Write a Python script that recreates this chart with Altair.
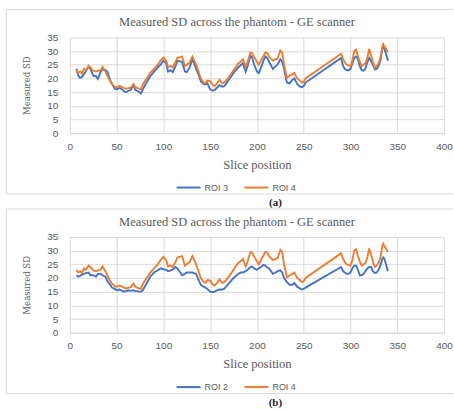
import altair as alt
import pandas as pd

# Slice positions shared by every series (no slices between 252 and 290)
slices = [
    7, 9, 11, 13, 15, 17, 20, 22, 25, 28, 30, 33, 35, 38, 40, 43, 45, 48, 50, 53,
    55, 58, 60, 63, 65, 68, 70, 72, 74, 76, 78, 82, 86, 90, 94, 97, 100, 103, 105, 108,
    110, 113, 115, 118, 120, 123, 125, 128, 131, 133, 135, 138, 140, 143, 145, 147, 150, 153, 155, 157,
    160, 163, 165, 167, 170, 175, 180, 183, 185, 188, 190, 193, 195, 197, 200, 202, 205, 207, 209, 211,
    213, 215, 217, 220, 222, 225, 227, 229, 232, 235, 238, 240, 243, 246, 248, 250, 252, 290, 292, 294,
    296, 298, 300, 302, 304, 306, 308, 310, 312, 314, 316, 318, 320, 322, 324, 326, 328, 330, 332, 334,
    335, 336, 338, 340,
]

roi4 = [
    23.0, 22.0, 22.5, 21.8, 23.5, 23.0, 24.5, 24.0, 22.8, 22.5, 22.8, 23.0, 24.2, 22.5, 21.0, 19.0, 18.0, 17.0, 16.8, 17.2,
    17.0, 16.5, 16.2, 16.5, 16.6, 18.0, 16.8, 16.5, 16.2, 16.0, 17.8, 20.0, 22.0, 23.5, 25.0, 26.5, 27.7, 26.5, 24.2, 24.5,
    24.0, 26.0, 27.5, 27.8, 28.0, 24.5, 25.0, 25.8, 28.0, 26.5, 25.0, 22.0, 20.0, 18.5, 18.2, 19.2, 19.0, 17.5, 17.3, 18.0,
    19.5, 18.2, 18.5, 19.2, 20.5, 23.0, 25.5, 26.2, 27.0, 24.2, 26.0, 29.5, 29.2, 27.8, 26.0, 25.0, 27.0, 28.2, 29.5, 29.3,
    28.0, 27.2, 26.5, 27.0, 27.2, 30.2, 29.5, 25.0, 20.2, 21.0, 21.5, 22.0, 20.0, 19.2, 18.5, 18.8, 20.0, 29.0, 27.0, 25.8,
    25.0, 24.8, 24.5, 26.5, 30.0, 30.5, 28.0, 26.0, 24.5, 25.0, 25.5, 27.5, 30.8, 28.5, 26.0, 24.0, 24.5, 25.5, 27.5, 31.5,
    32.5, 31.8, 30.8, 29.5,
]

roi3 = [
    23.5, 21.0, 20.2, 20.5, 21.5, 22.5, 24.5, 23.5, 21.0, 20.8, 19.8, 22.5, 23.3, 23.0, 22.5, 19.5, 18.0, 16.2, 16.0, 16.5,
    16.2, 15.3, 15.0, 15.5, 15.8, 17.5, 15.8, 15.5, 15.0, 14.5, 16.0, 18.5, 20.8, 22.5, 24.0, 25.0, 26.5, 25.5, 22.5, 23.0,
    22.3, 24.5, 26.5, 26.2, 26.0, 22.5, 22.3, 24.0, 27.0, 25.5, 23.5, 21.0, 19.0, 18.0, 17.8, 18.2, 16.0, 15.5, 15.8, 16.5,
    17.5, 17.0, 17.2, 18.0, 19.5, 22.0, 24.0, 25.0, 25.5, 22.5, 24.5, 28.5, 27.5, 25.0, 22.5, 22.0, 24.5, 26.5, 28.0, 27.5,
    26.0, 24.8, 23.5, 24.5, 25.0, 27.0, 26.0, 23.5, 18.5, 18.2, 19.5, 20.0, 18.0, 17.0, 16.8, 17.2, 18.5, 27.5, 24.5, 23.5,
    23.0, 23.0, 23.5, 25.5, 27.5, 28.0, 27.0, 24.5, 23.0, 22.8, 23.5, 26.0, 27.5, 26.5, 25.0, 23.3, 23.5, 24.5, 26.5, 31.0,
    32.0, 31.0, 29.0, 26.5,
]

roi2 = [
    21.0, 20.5, 20.8, 21.2, 21.5, 21.8, 22.0, 21.0, 21.0, 20.5, 21.5, 21.5, 21.0, 20.5, 19.0, 17.5, 16.5, 16.0, 15.5, 15.8,
    15.5, 15.0, 15.2, 15.5, 15.3, 15.5, 15.2, 15.2, 15.0, 15.0, 15.5, 18.0, 20.5, 22.0, 22.8, 23.5, 23.2, 23.0, 22.5, 22.8,
    23.0, 24.0, 23.5, 22.0, 21.0, 21.5, 22.0, 22.0, 22.0, 21.8, 21.5, 19.0, 17.5, 16.8, 16.5, 16.0, 15.0, 14.8, 15.0, 15.5,
    15.8, 15.8, 16.0, 16.8, 18.0, 20.0, 21.5, 22.0, 22.0, 22.5, 23.0, 24.0, 24.2, 23.5, 23.0, 23.5, 24.2, 24.8, 24.5, 23.8,
    23.5, 22.5, 21.5, 22.0, 22.5, 22.8, 22.0, 20.0, 18.5, 17.5, 17.5, 18.2, 16.8, 16.2, 15.8, 16.0, 16.5, 24.0, 22.5, 22.0,
    21.5, 21.5, 22.0, 23.5, 24.5, 24.5, 23.0, 21.0, 21.0, 21.5, 22.5, 23.5, 24.0, 24.0, 22.5, 21.8, 22.0, 23.0, 24.5, 27.0,
    27.5, 27.2, 25.0, 22.5,
]

chart_title = "Measured SD across the phantom - GE scanner"
x_ticks = [0, 50, 100, 150, 200, 250, 300, 350, 400]
y_ticks = [0, 5, 10, 15, 20, 25, 30, 35]

BLUE = "#4472C4"
ORANGE = "#ED7D31"
GRID = "#D9D9D9"
TEXT = "#595959"
SERIF = "Liberation Serif"
SANS = "Liberation Sans"

W, H = 375, 96


def long_frame(pairs):
    rows = []
    for name, vals in pairs:
        for s, v in zip(slices, vals):
            rows.append({"slice": s, "sd": v, "series": name})
    return pd.DataFrame(rows)


def one_row():
    return pd.DataFrame({"k": [0]})


def panel(pairs, caption):
    df = long_frame(pairs)
    names = [p[0] for p in pairs]

    lines = alt.Chart(df).mark_line(strokeWidth=1.9, interpolate="linear").encode(
        x=alt.X(
            "slice:Q",
            scale=alt.Scale(domain=[0, 400], nice=False),
            axis=alt.Axis(
                values=x_ticks, title="Slice position", grid=True, gridColor=GRID,
                domain=True, domainColor=GRID, ticks=False, labelPadding=8,
                labelFlush=False, titlePadding=7, titleFont=SERIF, titleFontSize=12.5,
                titleFontWeight="normal", titleColor=TEXT,
            ),
        ),
        y=alt.Y(
            "sd:Q",
            scale=alt.Scale(domain=[0, 35], nice=False),
            axis=alt.Axis(
                values=y_ticks, title="Measured SD", grid=True, gridColor=GRID,
                domain=False, ticks=False, labelPadding=12, labelFlush=False,
                titlePadding=15,
                titleFont="DejaVu Serif Condensed, Liberation Serif", titleFontSize=9.5,
                titleFontWeight="normal", titleColor=TEXT,
            ),
        ),
        color=alt.Color(
            "series:N",
            scale=alt.Scale(domain=names, range=[BLUE, ORANGE]),
            legend=alt.Legend(
                title=None, orient="none", direction="horizontal",
                legendX=106, legendY=137.5, symbolType="stroke", symbolSize=576,
                symbolStrokeWidth=2, labelOffset=3, columnPadding=12,
                labelFont=SANS, labelFontSize=9, labelColor=TEXT,
            ),
        ),
        order="slice:Q",
    )

    base = alt.Chart(one_row())
    # chart-area border: left, top and bottom edges
    border = base.mark_rule(color=GRID, strokeWidth=1).encode(
        x=alt.value(-63.7), x2=alt.value(-63.7), y=alt.value(-28), y2=alt.value(157)
    )
    border_top = base.mark_rule(color=GRID, strokeWidth=1).encode(
        x=alt.value(-63.7), x2=alt.value(384.5), y=alt.value(-28), y2=alt.value(-28)
    )
    border_bottom = base.mark_rule(color=GRID, strokeWidth=1).encode(
        x=alt.value(-63.7), x2=alt.value(384.5), y=alt.value(157), y2=alt.value(157)
    )
    heading = base.mark_text(
        font=SERIF, fontSize=12.5, color=TEXT, align="center", baseline="middle"
    ).encode(text=alt.value(chart_title), x=alt.value(167.5), y=alt.value(-15))
    label = base.mark_text(
        font=SERIF, fontSize=11, fontWeight="bold", color="#222222",
        align="center", baseline="middle",
    ).encode(text=alt.value(caption), x=alt.value(206), y=alt.value(166))

    return alt.layer(border, border_top, border_bottom, heading, label, lines).properties(
        width=W, height=H
    )


top = panel([("ROI 3", roi3), ("ROI 4", roi4)], "(a)")
bottom = panel([("ROI 2", roi2), ("ROI 4", roi4)], "(b)")

chart = (
    alt.vconcat(top, bottom, spacing=0)
    .resolve_scale(color="independent")
    .resolve_legend(color="independent")
    .properties(padding={"left": 5, "top": 8, "right": 0, "bottom": 0}, background="white")
    .configure_view(stroke=None)
    .configure_axis(labelFont=SANS, labelFontSize=10, labelColor=TEXT)
)

chart.save("out.html", embed_options={"renderer": "svg", "actions": False})
